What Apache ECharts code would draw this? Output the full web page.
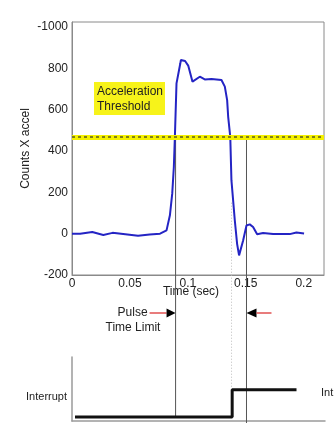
<!DOCTYPE html>
<html><head><meta charset="utf-8">
<script src="https://cdn.jsdelivr.net/npm/echarts/dist/echarts.min.js"></script>
<style>html,body{margin:0;padding:0;background:#fff}#c{width:334px;height:430px}</style>
</head><body><div id="c"></div>
<script>
// ---- data ----
const timeSec = [0, 0.007, 0.0175, 0.027, 0.035, 0.046, 0.057, 0.067, 0.076, 0.0816, 0.0845, 0.0865, 0.0879, 0.0888,
  0.0902, 0.0935, 0.0940, 0.0976, 0.1003, 0.1040, 0.1103, 0.1146, 0.1204, 0.1290, 0.1319, 0.1339, 0.1348, 0.1362,
  0.1366, 0.1376, 0.1405, 0.1425, 0.1442, 0.1477, 0.1506, 0.1534, 0.1563, 0.1598, 0.1649, 0.1736, 0.1879, 0.1937, 0.2003];
const accelCounts = [0, 0, 8, -6, 4, -3, -10, -4, 0, 16, 89, 194, 323, 469,
  728, 825, 841, 836, 814, 736, 760, 747, 749, 744, 712, 647, 566, 558,
  469, 259, 65, -49, -105, -33, 40, 45, 32, -3, 3, -2, -2, 6, 1];
const xTickValues = [0, 0.05, 0.1, 0.15, 0.2];
const xTickLabels = ['0', '0.05', '0.1', '0.15', '0.2'];
const yTickValues = [-200, 0, 200, 400, 600, 800, 1000];
const yTickLabels = ['-200', '0', '200', '400', '600', '800', '-1000'];
const thresholdValue = 469;
const pulseStartTime = 0.0894;
const pulseLimitTime = 0.1506;
const interruptTime = 0.1377;
const interruptTimes = [0.0026, 0.1377, 0.1377, 0.193];
const interruptLevels = [0, 0, 1, 1];

const FONT = "'Liberation Sans', Arial, sans-serif";
const TXT = '#222';
const AX = '#8a8a8a';
function pick(vals, labels) {
  return function (v) {
    for (let i = 0; i < vals.length; i++) if (Math.abs(vals[i] - v) < 1e-9) return labels[i];
    return '';
  };
}

const chart = echarts.init(document.getElementById('c'), null, {renderer: 'canvas'});
const accelData = timeSec.map((t, i) => [t, accelCounts[i]]);
const intData = interruptTimes.map((t, i) => [t, interruptLevels[i]]);

const option = {
  animation: false,
  backgroundColor: '#fff',
  textStyle: {fontFamily: FONT},
  grid: [
    {left: 72, top: 22, width: 252, height: 253, show: true, borderColor: AX, borderWidth: 1, containLabel: false, outerBoundsMode: 'none'},
    {left: 72, top: 357, width: 253, height: 64, show: false, containLabel: false, outerBoundsMode: 'none'}
  ],
  xAxis: [
    {type: 'value', gridIndex: 0, min: 0, max: 0.2175, interval: 0.05,
      name: 'Time (sec)', nameLocation: 'middle', nameGap: 11, nameMoveOverlap: false,
      nameTextStyle: {color: TXT, fontSize: 12, fontFamily: FONT, padding: [0, 14, 0, 0]},
      axisLine: {show: true, onZero: false, lineStyle: {color: AX}}, axisTick: {show: false}, splitLine: {show: false},
      axisLabel: {color: TXT, fontSize: 12, fontFamily: FONT, margin: 3, formatter: pick(xTickValues, xTickLabels), showMaxLabel: false}},
    {type: 'value', gridIndex: 1, min: 0, max: 0.2175,
      axisLine: {show: true, onZero: false, lineStyle: {color: '#9a9a9a', width: 1.5}}, axisTick: {show: false}, splitLine: {show: false}, axisLabel: {show: false}}
  ],
  yAxis: [
    {type: 'value', gridIndex: 0, min: -200, max: 1025, interval: 200,
      name: 'Counts X accel', nameLocation: 'middle', nameGap: 40, nameRotate: 90, nameMoveOverlap: false,
      nameTextStyle: {color: TXT, fontSize: 12, fontFamily: FONT},
      axisLine: {show: true, onZero: false, lineStyle: {color: AX}}, axisTick: {show: false}, splitLine: {show: false},
      axisLabel: {color: TXT, fontSize: 12, fontFamily: FONT, margin: 4, formatter: pick(yTickValues, yTickLabels), showMaxLabel: false}},
    {type: 'value', gridIndex: 1, min: -0.15, max: 2.2,
      axisLine: {show: true, onZero: false, lineStyle: {color: '#9a9a9a', width: 1.5}}, axisTick: {show: false}, splitLine: {show: false}, axisLabel: {show: false}}
  ],
  series: [
    {type: 'line', xAxisIndex: 0, yAxisIndex: 0, data: [], z: 1, silent: true,
      markLine: {silent: true, symbol: 'none', label: {show: false}, animation: false,
        data: [
          {yAxis: thresholdValue, lineStyle: {color: '#f4f000', width: 5, type: 'solid'}},
          {yAxis: thresholdValue, lineStyle: {color: '#5a5a20', width: 1.5, type: [3, 3]}}
        ]}},
    {type: 'line', xAxisIndex: 0, yAxisIndex: 0, data: accelData, z: 3, showSymbol: false, smooth: false,
      lineStyle: {color: '#2424c4', width: 2}, itemStyle: {color: '#2424c4'}},
    {type: 'line', xAxisIndex: 1, yAxisIndex: 1, data: intData, z: 3, showSymbol: false,
      lineStyle: {color: '#111', width: 3}, itemStyle: {color: '#111'}}
  ]
};
chart.setOption(option);

const px = t => chart.convertToPixel({xAxisIndex: 0}, t);
const py1 = v => chart.convertToPixel({yAxisIndex: 0}, v);
const py2 = v => chart.convertToPixel({yAxisIndex: 1}, v);
const xl = px(pulseStartTime), xr = px(pulseLimitTime), xd = px(interruptTime);
const yThr = py1(thresholdValue), yBot = py2(-0.15);
const ay = 313;
chart.setOption({
  graphic: [
    {type: 'line', z: 2, shape: {x1: xl, y1: yThr, x2: xl, y2: yBot - 3}, style: {stroke: '#555', lineWidth: 1}},
    {type: 'line', z: 2, shape: {x1: xr, y1: yThr, x2: xr, y2: yBot + 2}, style: {stroke: '#555', lineWidth: 1}},
    {type: 'line', z: 2, shape: {x1: xd, y1: py1(150), x2: xd, y2: py2(1)}, style: {stroke: '#bbb', lineWidth: 1, lineDash: [1, 2]}},
    {type: 'line', shape: {x1: xl - 26, y1: ay, x2: xl - 9, y2: ay}, style: {stroke: '#e05050', lineWidth: 1.5}},
    {type: 'polygon', shape: {points: [[xl - 9, ay - 4.5], [xl, ay], [xl - 9, ay + 4.5]]}, style: {fill: '#000'}},
    {type: 'polygon', shape: {points: [[xr + 10, ay - 4.5], [xr, ay], [xr + 10, ay + 4.5]]}, style: {fill: '#000'}},
    {type: 'line', shape: {x1: xr + 10, y1: ay, x2: xr + 25, y2: ay}, style: {stroke: '#e05050', lineWidth: 1.5}},
    {type: 'text', x: xl - 28, y: ay, style: {text: 'Pulse', fill: TXT, font: '12px ' + FONT, align: 'right', verticalAlign: 'middle'}},
    {type: 'text', x: 133, y: 328, style: {text: 'Time Limit', fill: TXT, font: '12px ' + FONT, align: 'center', verticalAlign: 'middle'}},
    {type: 'rect', z: 5, shape: {x: 94, y: 82, width: 71, height: 33}, style: {fill: '#f7f31a'}},
    {type: 'text', z: 6, x: 97, y: 92, style: {text: 'Acceleration', fill: TXT, font: '12px ' + FONT, align: 'left', verticalAlign: 'middle'}},
    {type: 'text', z: 6, x: 97, y: 107, style: {text: 'Threshold', fill: TXT, font: '12px ' + FONT, align: 'left', verticalAlign: 'middle'}},
    {type: 'text', x: 67, y: 397, style: {text: 'Interrupt', fill: TXT, font: '11px ' + FONT, align: 'right', verticalAlign: 'middle'}},
    {type: 'text', x: 321, y: 393, style: {text: 'Int', fill: TXT, font: '11px ' + FONT, align: 'left', verticalAlign: 'middle'}}
  ]
});
</script></body></html>
